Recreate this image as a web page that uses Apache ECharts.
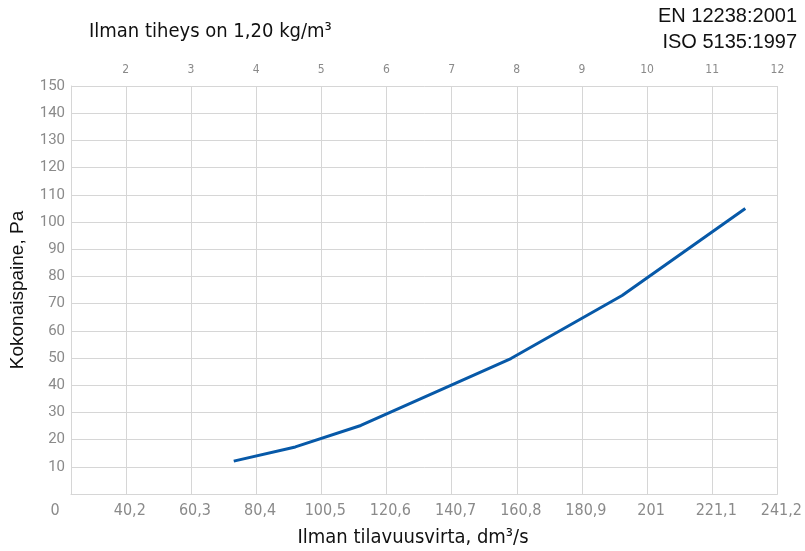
<!DOCTYPE html>
<html><head><meta charset="utf-8">
<script src="https://cdn.jsdelivr.net/npm/echarts@6/dist/echarts.min.js"></script>
<style>html,body{margin:0;padding:0;background:#fff}#c{width:805px;height:551px}</style>
</head><body><div id="c"></div>
<script>
// x-axis: air flow dm³/s (bottom), air velocity m/s (top)
const flowTicks = [40.2, 60.3, 80.4, 100.5, 120.6, 140.7, 160.8, 180.9, 201, 221.1, 241.2];
const flowTickLabels = ['40,2', '60,3', '80,4', '100,5', '120,6', '140,7', '160,8', '180,9', '201', '221,1', '241,2'];
const velocityTicks = [2, 3, 4, 5, 6, 7, 8, 9, 10, 11, 12];
const flowMin = 23.3, flowMax = 241.2, velocityMax = 12, flowPerVelocity = 20.1;
// series: flow (dm³/s) vs total pressure (Pa)
const flow = [73.5, 92.5, 112.7, 159.0, 193.3, 231.3];
const pressure = [12.1, 17.3, 25.2, 49.8, 73.0, 105.0];

const COND = "'Liberation Sans Narrow','DejaVu Sans Condensed','Roboto Condensed',sans-serif";
const GRID = '#d6d6d6';
const LBL = '#8a8a8a';

const chart = echarts.init(document.getElementById('c'), null, {renderer: 'canvas'});
chart.setOption({
  animation: false,
  backgroundColor: '#fff',
  grid: {left: 69, right: 22, top: 86, bottom: 57, containLabel: false},
  xAxis: [{
    type: 'value', position: 'bottom', min: flowMin, max: flowMax,
    axisLine: {show: true, lineStyle: {color: GRID, width: 1}},
    axisTick: {show: false, customValues: flowTicks},
    splitLine: {show: true, lineStyle: {color: GRID, width: 1}},
    axisLabel: {
      customValues: flowTicks, margin: 9, color: LBL, fontFamily: COND, fontSize: 16,
      padding: [0, 0, 0, 8],
      formatter: function (v) {
        let best = 0;
        for (let i = 0; i < flowTicks.length; i++) if (Math.abs(flowTicks[i] - v) < Math.abs(flowTicks[best] - v)) best = i;
        return flowTickLabels[best];
      }
    }
  }, {
    type: 'value', position: 'top', min: flowMin / flowPerVelocity, max: velocityMax,
    axisLine: {show: false}, axisTick: {show: false, customValues: velocityTicks},
    splitLine: {show: false},
    axisLabel: {customValues: velocityTicks, margin: 10, color: LBL, fontFamily: COND, fontSize: 12}
  }],
  yAxis: {
    type: 'value', min: 0, max: 150, interval: 10,
    axisLine: {show: true, lineStyle: {color: GRID, width: 1}},
    axisTick: {show: false},
    splitLine: {show: true, lineStyle: {color: GRID, width: 1}},
    axisLabel: {margin: 6, color: LBL, fontFamily: 'Roboto, sans-serif', fontSize: 15,
      formatter: function (v) { return v === 0 ? '' : String(v); }},
    name: 'Kokonaispaine, Pa', nameLocation: 'middle', nameGap: 44, nameRotate: 90,
    nameTextStyle: {color: '#111', fontFamily: "'Liberation Sans', Arial, sans-serif", fontSize: 19}
  },
  graphic: [
    {type: 'text', left: 89, top: 22, style: {text: 'Ilman tiheys on 1,20 kg/m³', fill: '#111', font: "20px " + COND}},
    {type: 'text', right: 8, top: 6, style: {text: 'EN 12238:2001', fill: '#111', font: "20px 'Liberation Sans', Arial, sans-serif"}},
    {type: 'text', right: 8, top: 32, style: {text: 'ISO 5135:1997', fill: '#111', font: "20px 'Liberation Sans', Arial, sans-serif"}},
    {type: 'text', x: 55, y: 511, style: {text: '0', fill: LBL, font: "16px " + COND, align: 'center', verticalAlign: 'middle'}},
    {type: 'text', x: 413, y: 538, style: {text: 'Ilman tilavuusvirta, dm³/s', fill: '#111', font: "20px " + COND, align: 'center', verticalAlign: 'middle'}}
  ],
  series: [{
    type: 'line', xAxisIndex: 0, yAxisIndex: 0,
    data: flow.map((f, i) => [f, pressure[i]]),
    showSymbol: false, symbol: 'none',
    lineStyle: {color: '#0759a8', width: 3}
  }]
});
</script></body></html>
